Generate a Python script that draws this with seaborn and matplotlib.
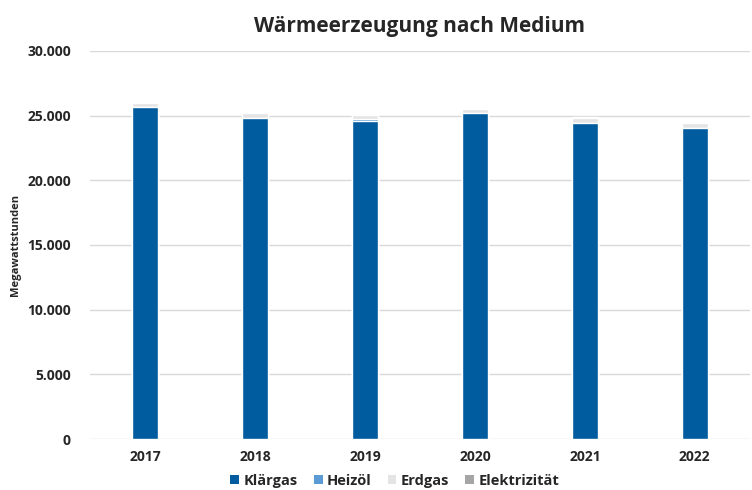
import numpy as np
import pandas as pd
import matplotlib
matplotlib.use("Agg")
import matplotlib.pyplot as plt
import seaborn as sns
from matplotlib.patches import Patch

### Data (MWh)
years = ["2017", "2018", "2019", "2020", "2021", "2022"]
klaergas = [25680, 24850, 24620, 25240, 24460, 24080]
heizoel = [0, 0, 130, 0, 0, 0]
erdgas = [300, 360, 330, 290, 390, 360]
elektrizitaet = [10, 10, 10, 10, 10, 10]

series_names = ["Klärgas", "Heizöl", "Erdgas", "Elektrizität"]
series_values = [klaergas, heizoel, erdgas, elektrizitaet]
colors = ["#005C9E", "#5B9BD5", "#E4E4E4", "#A5A5A5"]

### cumulative totals, drawn back to front so they look stacked
cum = np.cumsum(np.array(series_values), axis=0)

sns.set_style("white")
plt.rcParams["font.family"] = ["Open Sans", "DejaVu Sans"]

fig = plt.figure(figsize=(7.52, 4.90), dpi=100)
ax = fig.add_axes([0.12, 0.104, 0.877, 0.792])

for i in range(len(series_names) - 1, -1, -1):
    df = pd.DataFrame({"year": years, "value": cum[i]})
    sns.barplot(data=df, x="year", y="value", color=colors[i], width=0.24,
                saturation=1, ax=ax, zorder=3)

ax.set_ylim(0, 30000)
ax.set_xlim(-0.5, len(years) - 0.5)
ticks = np.arange(0, 30001, 5000)
ax.set_yticks(ticks)
ax.set_yticklabels([f"{t:,}".replace(",", ".") for t in ticks],
                   fontsize=10, fontweight="bold")
ax.set_xticklabels(years, fontsize=10, fontweight="bold")
ax.yaxis.grid(True, color="#D9D9D9", linewidth=1, zorder=0)
for s in ax.spines.values():
    s.set_visible(False)
ax.tick_params(axis="both", length=0)
ax.tick_params(axis="y", pad=14)
ax.tick_params(axis="x", pad=8)

ax.set_xlabel("")
ax.set_ylabel("Megawattstunden", fontsize=8, fontweight="bold")
ax.yaxis.set_label_coords(-0.105, 0.5)
ax.set_title("Wärmeerzeugung nach Medium", fontsize=15, fontweight="bold", pad=14)

handles = [Patch(facecolor=c, edgecolor="none") for c in colors]
fig.legend(handles, series_names, loc="lower center", ncol=4, frameon=False,
           bbox_to_anchor=(0.525, -0.022), prop={"weight": "bold", "size": 10.5},
           handlelength=0.6, handleheight=0.6, handletextpad=0.3, columnspacing=1.1)

fig.savefig("out.png", dpi=100)
